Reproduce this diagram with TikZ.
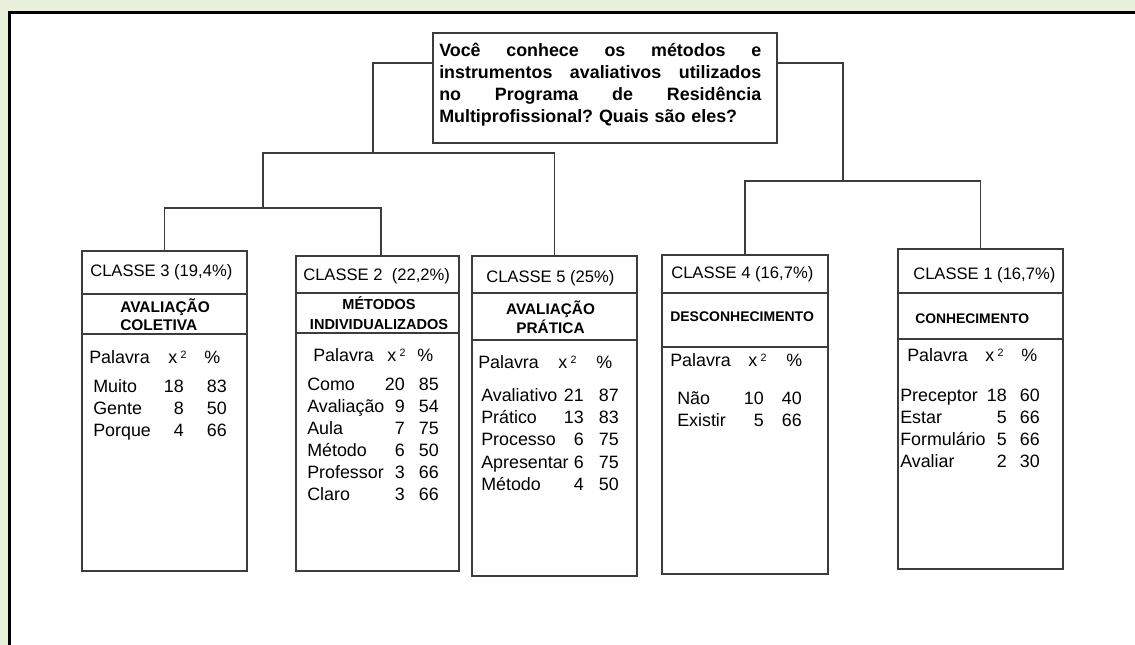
\documentclass[tikz,border=0pt]{standalone}
\usepackage{fontspec}
\setmainfont{Liberation Sans}
\usepackage{tikz}
\usetikzlibrary{positioning}
\definecolor{pagegreen}{RGB}{233,241,221}
\definecolor{linegray}{RGB}{60,60,60}
\newlength\px
\setlength\px{0.75pt}
\frenchspacing

\begin{document}
\begin{tikzpicture}[x=0.75pt,y=-0.75pt,
  boxline/.style={draw=linegray, line width=1.1pt},
  classbox/.style={boxline, inner sep=0pt, outer sep=0pt, anchor=north west},
  txt/.style={inner sep=0pt, font=\fontsize{13.4}{16}\selectfont},
  classlbl/.style={inner sep=0pt, anchor=base west, font=\fontsize{12.45}{15}\selectfont},
  catlbl/.style={inner sep=0pt, font=\bfseries\fontsize{#1}{13.9}\selectfont},
  catlbl/.default=11.5
]
\useasboundingbox (0,0) rectangle (1135,645);
% fundo e moldura
\fill[pagegreen] (0,0) rectangle (1135,645);
\fill[white] (9.5,12.5) rectangle (1140,650);
\draw[line width=2.3pt] (1140,12.5) -- (9.5,12.5) -- (9.5,650);

% pergunta
\node[classbox, minimum width=344\px, minimum height=110\px] (q) at (433,33) {};
\node[anchor=base west, inner sep=0pt, text width=322\px, align=left,
      font=\bfseries\fontsize{13.4}{16.3}\selectfont] (qtxt) at (439,57)
  {\makebox[241.5pt][l]{Você\hfill conhece\hfill os\hfill métodos\hfill e}\\
   \makebox[241.5pt][l]{instrumentos\hfill avaliativos\hfill utilizados}\\
   \makebox[241.5pt][l]{no\hfill Programa\hfill de\hfill Residência}\\
   Multiprofissional? Quais são eles?};

% classes
\node[classbox, minimum width=165\px, minimum height=320\px] (c3) at (82,251) {};
\node[classbox, minimum width=163\px, minimum height=315\px] (c2) at (296,256) {};
\node[classbox, minimum width=165\px, minimum height=320\px] (c5) at (472,256) {};
\node[classbox, minimum width=166\px, minimum height=319\px] (c4) at (662,255) {};
\node[classbox, minimum width=165\px, minimum height=320\px] (c1) at (898,249) {};
\foreach \b/\ya/\yb in {c3/294/334, c2/293/333, c5/293/340, c4/293/347, c1/293/339}{
  \draw[boxline] (\b.west |- 0,\ya) -- (\b.east |- 0,\ya);
  \draw[boxline] (\b.west |- 0,\yb) -- (\b.east |- 0,\yb);
}

% ligacoes
\coordinate (jA) at (373,153);
\coordinate (jB) at (263,153);
\coordinate (jC) at (263,208);
\coordinate (jD) at (843,181);
\draw[boxline] ([yshift=18.75pt]q.west) -| (jA);
\draw[boxline] (c5.north) |- (jB) -- (jC);
\draw[boxline] (c3.north) |- (jC);
\draw[boxline] ([xshift=2.6pt]c2.north) |- (jC);
\draw[boxline] ([yshift=18.75pt]q.east) -| (jD);
\draw[boxline] (c4.north) |- (jD);
\draw[boxline] (c1.north) |- (jD);

% titulos
\node[classlbl] (t3) at (90,276.7) {CLASSE 3 (19,4\%)};
\node[classlbl] (t2) at (303,280.7) {CLASSE 2~ (22,2\%)};
\node[classlbl] (t5) at (486,282.3) {CLASSE 5 (25\%)};
\node[classlbl] (t4) at (671,278.3) {CLASSE 4 (16,7\%)};
\node[classlbl] (t1) at (913,280) {CLASSE 1 (16,7\%)};
\node[catlbl=11.6, anchor=base west, align=left] (k3) at (120,330.7) {AVALIAÇÃO\\COLETIVA};
\node[catlbl=10.9, anchor=base, align=center] (k2) at (379,329.3) {MÉTODOS\\[0.7pt]INDIVIDUALIZADOS};
\node[catlbl=11.5, anchor=base, align=center] (k5) at (550.5,333.3) {AVALIAÇÃO\\PRÁTICA};
\node[catlbl=10.5, anchor=base west] (k4) at (670,321.7) {DESCONHECIMENTO};
\node[catlbl=10.4, anchor=base west] (k1) at (915,323.3) {CONHECIMENTO};

% cabecalho das tabelas
\foreach \b/\xa/\xb/\xc/\y in {c3/89/168/204/363.3, c2/313/387/417/361.7, c5/478/558/596/368.3,
                               c4/670/748/786/366.7, c1/907/985/1021/361.7}{
  \node[txt, anchor=base west] (\b p) at (\xa,\y) {Palavra};
  \node[txt, anchor=base west] (\b x) at (\xb,\y) {x\kern2.5pt\raisebox{3.6pt}{\fontsize{8}{8}\selectfont 2}};
  \node[txt, anchor=base west] (\b c) at (\xc,\y) {\%};
}

% palavras
\foreach \w/\a/\v [count=\i] in {Muito/18/83, Gente/8/50, Porque/4/66}{
  \node[txt, anchor=base west] (c3w\i) at (93,{392.7+22.1*(\i-1)}) {\w};
  \node[txt, anchor=base east] (c3a\i) at (184,{392.7+22.1*(\i-1)}) {\a};
  \node[txt, anchor=base east] (c3b\i) at (227,{392.7+22.1*(\i-1)}) {\v};
}
\foreach \w/\a/\v [count=\i] in {Como/20/85, Avaliação/9/54, Aula/7/75, Método/6/50, Professor/3/66, Claro/3/66}{
  \node[txt, anchor=base west] (c2w\i) at (307,{390+22.1*(\i-1)}) {\w};
  \node[txt, anchor=base east] (c2a\i) at (405,{390+22.1*(\i-1)}) {\a};
  \node[txt, anchor=base east] (c2b\i) at (439,{390+22.1*(\i-1)}) {\v};
}
\foreach \w/\a/\v [count=\i] in {Avaliativo/21/87, Prático/13/83, Processo/6/75, Apresentar/6/75, Método/4/50}{
  \node[txt, anchor=base west] (c5w\i) at (481,{401.7+22.1*(\i-1)}) {\w};
  \node[txt, anchor=base east] (c5a\i) at (584,{401.7+22.1*(\i-1)}) {\a};
  \node[txt, anchor=base east] (c5b\i) at (619,{401.7+22.1*(\i-1)}) {\v};
}
\foreach \w/\a/\v [count=\i] in {Não/10/40, Existir/5/66}{
  \node[txt, anchor=base west] (c4w\i) at (677,{404+22*(\i-1)}) {\w};
  \node[txt, anchor=base east] (c4a\i) at (764,{404+22*(\i-1)}) {\a};
  \node[txt, anchor=base east] (c4b\i) at (802,{404+22*(\i-1)}) {\v};
}
\foreach \w/\a/\v [count=\i] in {Preceptor/18/60, Estar/5/66, Formulário/5/66, Avaliar/2/30}{
  \node[txt, anchor=base west] (c1w\i) at (900,{401.7+22*(\i-1)}) {\w};
  \node[txt, anchor=base east] (c1a\i) at (1007,{401.7+22*(\i-1)}) {\a};
  \node[txt, anchor=base east] (c1b\i) at (1040,{401.7+22*(\i-1)}) {\v};
}
\end{tikzpicture}
\end{document}
